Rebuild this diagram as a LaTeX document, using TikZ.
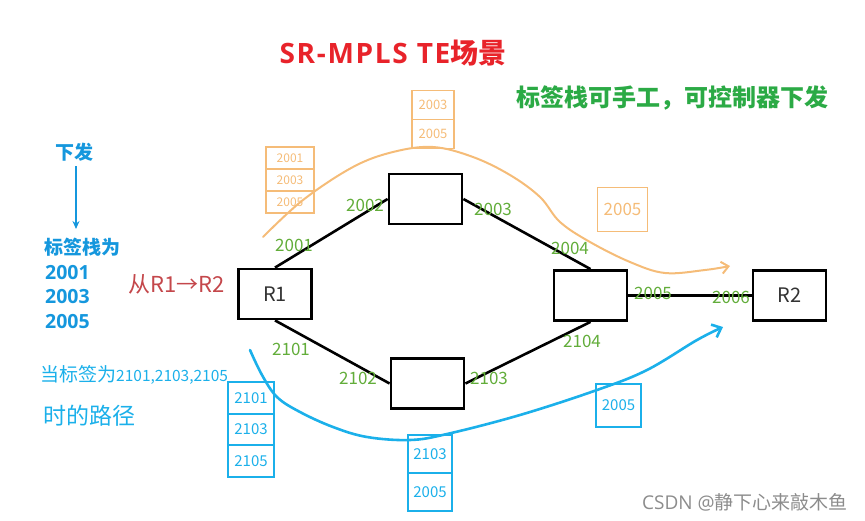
\documentclass[tikz,border=0pt]{standalone}
\usepackage{fontspec}
\setmainfont{Noto Sans CJK SC}
\newfontfamily\lat{Open Sans}
\newfontfamily\lattitle[LetterSpace=6]{Open Sans}
\usetikzlibrary{arrows.meta}
\definecolor{titlered}{HTML}{E8232A}
\definecolor{subgreen}{HTML}{2BAA45}
\definecolor{lblue}{HTML}{1597DD}
\definecolor{hred}{HTML}{C4474B}
\definecolor{hgreen}{HTML}{62AD3A}
\definecolor{horange}{HTML}{F5BC78}
\definecolor{hblue}{HTML}{1BB0EA}
\definecolor{wmgrey}{HTML}{8C8C8C}
\definecolor{rtext}{HTML}{333333}
\begin{document}
\begin{tikzpicture}[x=1pt,y=-1pt,
  router/.style={draw=black, line width=2.8pt, minimum width=73pt, minimum height=50pt, inner sep=0pt, text=rtext, font=\fontsize{20}{20}\selectfont},
  link/.style={line width=2.6pt, black},
  lbl/.style={text=hgreen, font=\fontsize{17}{17}\selectfont, inner sep=0pt},
  ocell/.style={draw=horange, line width=1.6pt, text=horange, inner sep=0pt, outer sep=0pt, font=\fontsize{12}{12}\selectfont},
  bcell/.style={draw=hblue, line width=2.2pt, text=hblue, inner sep=0pt, outer sep=0pt, font=\fontsize{15}{15}\selectfont},
  opath/.style={draw=horange, line width=2pt, line cap=round},
  bpath/.style={draw=hblue, line width=2.6pt, line cap=round},
  bluetext/.style={text=lblue, inner sep=0pt, anchor=base west},
]
\useasboundingbox (0,0) rectangle (865,520);

% title and subtitle
\node[text=titlered, font=\fontsize{28}{28}\selectfont\bfseries, anchor=base, inner sep=0pt] (title) at (393,63) {{\lattitle SR-MPLS TE}场景};
\node[text=subgreen, font=\fontsize{24}{24}\selectfont\bfseries, anchor=base, inner sep=0pt] (sub) at (672.5,106) {标签栈可手工，可控制器下发};

% left block
\node[text=lblue, font=\fontsize{19}{19}\selectfont\bfseries, inner sep=0pt] (xf) at (74,152) {下发};
\coordinate (xfend) at (76,229);
\draw[lblue, line width=2pt, -{Stealth[length=8pt,width=7pt]}] (xf.south) ++(2,5) coordinate (xfstart) (xfstart) -- (xfend);
\node[bluetext, font=\fontsize{19}{19}\selectfont\bfseries] (stk0) at (44,254) {标签栈为};
\node[bluetext, font=\fontsize{19.5}{19.5}\selectfont\bfseries\lat] (stk1) at (45,279) {2001};
\node[bluetext, font=\fontsize{19.5}{19.5}\selectfont\bfseries\lat] (stk2) at (45,303.5) {2003};
\node[bluetext, font=\fontsize{19.5}{19.5}\selectfont\bfseries\lat] (stk3) at (45,328) {2005};

% handwritten notes
\node[text=hred, font=\fontsize{22}{22}\selectfont, anchor=base west, inner sep=0pt] (from) at (128,292) {从R1→R2};
\node[text=hblue, anchor=base west, inner sep=0pt] (cond1) at (40,381) {{\fontsize{19}{19}\selectfont 当标签为}{\fontsize{15.5}{15.5}\selectfont 2101,2103,2105}};
\node[text=hblue, anchor=base west, inner sep=0pt, font=\fontsize{23}{23}\selectfont] (cond2) at (43,424) {时的路径};

% routers
\node[router] (R1) at (275,294) {R1};
\node[router] (T) at (425.5,199) {};
\node[router] (M) at (590.5,295.5) {};
\node[router] (B) at (427.5,383.5) {};
\node[router] (R2) at (789.5,295.5) {R2};

% links
\draw[link] (R1.north) -- (T.west);
\draw[link] (T.east) -- (M.north);
\draw[link] (R1.south) -- (B.west);
\draw[link] (B.east) -- (M.south);
\draw[link] (M.east) -- (R2.west);

% interface labels
\node[lbl] (l2001) at (294,245) {2001};
\node[lbl] (l2002) at (365,205) {2002};
\node[lbl] (l2003) at (493,209) {2003};
\node[lbl] (l2004) at (570,248) {2004};
\node[lbl] (l2005) at (653,293) {2005};
\node[lbl] (l2006) at (731,297) {2006};
\node[lbl] (l2101) at (291,349) {2101};
\node[lbl] (l2102) at (358,378) {2102};
\node[lbl] (l2103) at (489,378) {2103};
\node[lbl] (l2104) at (582,341) {2104};

% orange path (via top)
\draw[opath, -{Straight Barb[length=7pt,width=12pt]}] plot[smooth, tension=0.6] coordinates {(263,237) (303,200) (353,167) (393,152) (433,147) (473,157) (510,175) (540,197) (560,222) (590,242) (630,262) (665,273) (705,270) (730,266)};
\node[ocell, minimum width=48pt, minimum height=22pt] (o1a) at (290,158) {2001};
\node[ocell, minimum width=48pt, minimum height=22pt, anchor=north] (o1b) at (o1a.south) {2003};
\node[ocell, minimum width=48pt, minimum height=22pt, anchor=north] (o1c) at (o1b.south) {2005};
\node[ocell, minimum width=42pt, minimum height=29pt, font=\fontsize{13}{13}\selectfont] (o2a) at (433,105) {2003};
\node[ocell, minimum width=42pt, minimum height=29pt, font=\fontsize{13}{13}\selectfont, anchor=north] (o2b) at (o2a.south) {2005};
\node[ocell, minimum width=50pt, minimum height=44pt, font=\fontsize{17}{17}\selectfont] (o3) at (622.5,209.5) {2005};

% blue path (via bottom)
\draw[bpath, -{Straight Barb[length=8pt,width=14pt]}] plot[smooth, tension=0.6] coordinates {(250,350) (262,375) (277,397) (300,412) (333,427) (367,437) (410,440) (447,434) (520,415) (597,390) (647,370) (697,340) (723,327)};
\node[bcell, minimum width=46pt, minimum height=31.5pt] (b1a) at (251,398) {2101};
\node[bcell, minimum width=46pt, minimum height=31.5pt, anchor=north] (b1b) at (b1a.south) {2103};
\node[bcell, minimum width=46pt, minimum height=31.5pt, anchor=north] (b1c) at (b1b.south) {2105};
\node[bcell, minimum width=44pt, minimum height=38pt] (b2a) at (430,454) {2103};
\node[bcell, minimum width=44pt, minimum height=38pt, anchor=north] (b2b) at (b2a.south) {2005};
\node[bcell, minimum width=45pt, minimum height=43pt] (b3) at (618.5,405.5) {2005};

% watermark
\node[text=wmgrey, font=\fontsize{19}{19}\selectfont, anchor=base east, inner sep=0pt] (wm) at (848,509) {{\lat CSDN @}静下心来敲木鱼};
\end{tikzpicture}
\end{document}
